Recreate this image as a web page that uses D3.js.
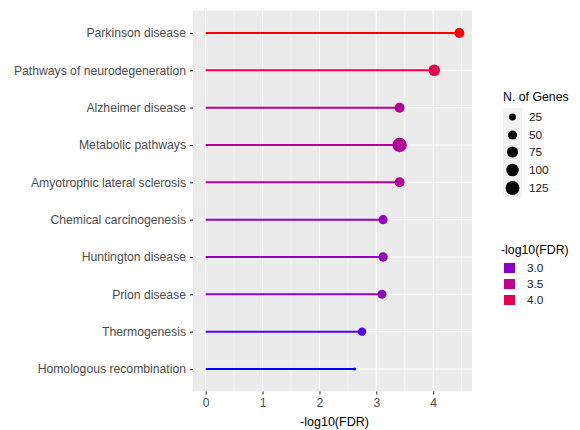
<!DOCTYPE html>
<html><head><meta charset="utf-8">
<script src="https://cdn.jsdelivr.net/npm/d3@7"></script>
<style>body{margin:0;background:#fff;} text{font-family:"Liberation Sans",Arial,sans-serif;}</style>
</head><body>
<svg id="c" width="580" height="430"></svg>
<script>
const categories = ["Parkinson disease","Pathways of neurodegeneration","Alzheimer disease","Metabolic pathways","Amyotrophic lateral sclerosis","Chemical carcinogenesis","Huntington disease","Prion disease","Thermogenesis","Homologous recombination"];
const fdrValues = [4.46, 4.02, 3.41, 3.41, 3.41, 3.12, 3.12, 3.10, 2.75, 2.62];
const geneCounts = [62, 82, 60, 135, 60, 49, 52, 48, 41, 3];
const xTicks = [0, 1, 2, 3, 4];
const sizeBreaks = [25, 50, 75, 100, 125];
const colorBreaks = [3.0, 3.5, 4.0];

const svg = d3.select("#c");
const L = 193, R = 472, T = 10.6, B = 391.4;

const xmax = d3.max(fdrValues), xmin = 0;
const ex = (xmax - xmin) * 0.05;
const x = d3.scaleLinear().domain([xmin - ex, xmax + ex]).range([L, R]);
const y = d3.scalePoint().domain(categories).range([T, B]).padding(0.6);

const color = d3.scaleLinear().domain([d3.min(fdrValues), d3.max(fdrValues)])
  .range(["blue", "red"]).interpolate(d3.interpolateLab);

const sz = d3.scaleLinear().domain([Math.sqrt(d3.min(geneCounts)), Math.sqrt(d3.max(geneCounts))]).range([1, 6]);
const rad = n => 0.8 * (sz(Math.sqrt(n)) * 2.845 + 0.94) / 2;

// panel
svg.append("rect").attr("x", L).attr("y", T).attr("width", R - L).attr("height", B - T).attr("fill", "#EBEBEB");
const minor = d3.range(0.5, xmax + ex, 1);
svg.selectAll(".mg").data(minor).enter().append("line")
  .attr("x1", d => x(d)).attr("x2", d => x(d)).attr("y1", T).attr("y2", B)
  .attr("stroke", "#fff").attr("stroke-width", 0.55);
svg.selectAll(".gx").data(xTicks).enter().append("line")
  .attr("x1", d => x(d)).attr("x2", d => x(d)).attr("y1", T).attr("y2", B)
  .attr("stroke", "#fff").attr("stroke-width", 1.1);
svg.selectAll(".gy").data(categories).enter().append("line")
  .attr("x1", L).attr("x2", R).attr("y1", d => y(d)).attr("y2", d => y(d))
  .attr("stroke", "#fff").attr("stroke-width", 1.1);

// segments + points
const data = categories.map((c, i) => ({c, v: fdrValues[i], n: geneCounts[i]}));
svg.selectAll(".seg").data(data).enter().append("line")
  .attr("x1", x(0)).attr("x2", d => x(d.v)).attr("y1", d => y(d.c)).attr("y2", d => y(d.c))
  .attr("stroke", d => color(d.v)).attr("stroke-width", 2);
svg.selectAll(".pt").data(data).enter().append("circle")
  .attr("cx", d => x(d.v)).attr("cy", d => y(d.c)).attr("r", d => rad(d.n))
  .attr("fill", d => color(d.v));

// axes
const xa = svg.append("g").attr("transform", `translate(0,${B})`)
  .call(d3.axisBottom(x).tickValues(xTicks).tickSize(3).tickPadding(4).tickFormat(d3.format("d")));
const ya = svg.append("g").attr("transform", `translate(${L},0)`)
  .call(d3.axisLeft(y).tickSize(3).tickPadding(4));
[xa, ya].forEach(g => {
  g.select(".domain").remove();
  g.selectAll(".tick line").attr("stroke", "#333").attr("stroke-width", 1.1);
  g.selectAll(".tick text").attr("fill", "#4D4D4D").attr("font-size", 12.2);
});
svg.append("text").attr("x", (L + R) / 2 + 2).attr("y", 426)
  .attr("text-anchor", "middle").attr("font-size", 12.5).attr("fill", "#000").text("-log10(FDR)");

// size legend
const lg = svg.append("g");
lg.append("text").attr("x", 503).attr("y", 101).attr("font-size", 12.3).text("N. of Genes");
const sRows = [117, 135, 152, 170, 188];
lg.append("rect").attr("x", 503).attr("y", 108).attr("width", 19).attr("height", 89).attr("fill", "#F2F2F2");
sizeBreaks.forEach((b, i) => {
  lg.append("circle").attr("cx", 512.5).attr("cy", sRows[i]).attr("r", rad(b)).attr("fill", "#000");
  lg.append("text").attr("x", 529).attr("y", sRows[i] + 4).attr("font-size", 11.8).attr("fill", "#1A1A1A").text(b);
});

// color legend
lg.append("text").attr("x", 501).attr("y", 254).attr("font-size", 12.3).text("-log10(FDR)");
const cRows = [268, 284, 300];
colorBreaks.forEach((b, i) => {
  lg.append("rect").attr("x", 504).attr("y", cRows[i] - 5).attr("width", 11).attr("height", 10).attr("fill", color(b));
  lg.append("text").attr("x", 527).attr("y", cRows[i] + 4).attr("font-size", 11.8).attr("fill", "#1A1A1A").text(d3.format(".1f")(b));
});
</script>
</body></html>
